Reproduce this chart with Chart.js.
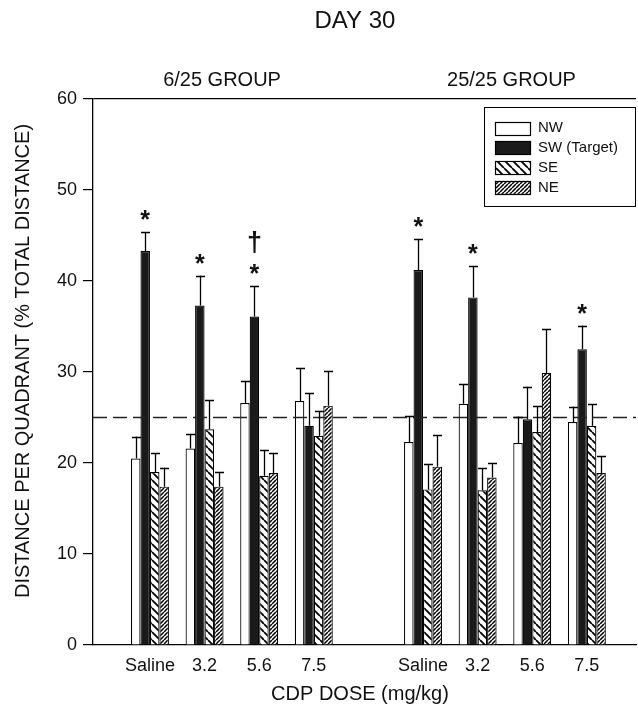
<!DOCTYPE html>
<html lang="en">
<head>
    <meta charset="UTF-8">
    <title>Day 30 - Distance per quadrant</title>
    <script src="https://cdn.jsdelivr.net/npm/chart.js"></script>
    <style>
        body { margin: 0; background: #fff; }
        #chart { display: block; }
    </style>
</head>
<body>
    <canvas id="chart" width="638" height="713"></canvas>

    <script>
        // values (mean and SEM, % of total distance)
        const xPos = [1, 2, 3, 4, 6, 7, 8, 9];
        const doseLabels = ['Saline', '3.2', '5.6', '7.5', 'Saline', '3.2', '5.6', '7.5'];
        const groupLabels = ['6/25 GROUP', '25/25 GROUP'];
        const groupLabelPos = [2.32, 7.62];
        const quadrants = ['NW', 'SW (Target)', 'SE', 'NE'];

        const nwMean = [20.5, 21.6, 26.6, 26.8, 22.3, 26.5, 22.2, 24.5];
        const swMean = [43.3, 37.3, 36.1, 24.1, 41.2, 38.2, 24.8, 32.5];
        const seMean = [19.0, 23.7, 18.6, 23.0, 17.1, 17.0, 23.4, 24.1];
        const neMean = [17.4, 17.4, 18.9, 26.3, 19.6, 18.4, 29.9, 18.9];

        const nwSem = [2.4, 1.6, 2.4, 3.6, 2.9, 2.2, 2.9, 1.7];
        const swSem = [2.1, 3.3, 3.3, 3.6, 3.4, 3.4, 3.6, 2.6];
        const seSem = [2.1, 3.2, 2.8, 2.7, 2.8, 2.4, 2.9, 2.4];
        const neSem = [2.1, 1.6, 2.2, 3.8, 3.5, 1.6, 4.8, 1.9];

        // significance marks above the SW bars (listed bottom to top)
        const swMarks = [['*'], ['*'], ['*', '†'], [], ['*'], ['*'], [], ['*']];

        const chanceLevel = 25;
        const yTicks = [0, 10, 20, 30, 40, 50, 60];

        const FONT = "'Liberation Sans', Arial, Helvetica, sans-serif";
        const INK = '#111';

        // hatch patterns for SE and NE
        function makePattern(size, width, draw) {
            const c = document.createElement('canvas');
            c.width = size; c.height = size;
            const g = c.getContext('2d');
            g.fillStyle = '#fff';
            g.fillRect(0, 0, size, size);
            g.strokeStyle = '#000';
            g.lineWidth = width;
            g.beginPath();
            draw(g, size);
            g.stroke();
            return g.createPattern(c, 'repeat');
        }
        const sePattern = makePattern(8, 1.8, (g, s) => {
            for (const k of [-s, 0, s]) { g.moveTo(k, 0); g.lineTo(k + s, s); }
        });
        const nePattern = makePattern(4, 1.5, (g, s) => {
            for (const k of [-s, 0, s]) { g.moveTo(k, s); g.lineTo(k + s, 0); }
        });

        const fills = ['#fff', '#1a1a1a', sePattern, nePattern];
        const means = [nwMean, swMean, seMean, neMean];
        const sems = [nwSem, swSem, seSem, neSem];

        const datasets = quadrants.map((q, d) => ({
            label: q,
            data: xPos.map((x, i) => ({ x: x, y: means[d][i] })),
            backgroundColor: fills[d],
            borderColor: '#000',
            borderWidth: 1.2
        }));

        const drawExtras = {
            id: 'drawExtras',
            beforeDraw(chart) {
                const ctx = chart.ctx;
                ctx.save();
                ctx.fillStyle = '#fff';
                ctx.fillRect(0, 0, chart.width, chart.height);
                ctx.restore();
            },
            afterDatasetsDraw(chart) {
                const ctx = chart.ctx;
                const xs = chart.scales.x;
                const ys = chart.scales.y;
                const area = chart.chartArea;
                ctx.save();

                // chance level
                const yc = Math.round(ys.getPixelForValue(chanceLevel)) + 0.5;
                ctx.strokeStyle = '#222';
                ctx.lineWidth = 1.3;
                ctx.setLineDash([14, 6]);
                ctx.beginPath();
                ctx.moveTo(area.left, yc);
                ctx.lineTo(area.right, yc);
                ctx.stroke();
                ctx.setLineDash([]);

                // error bars (upper only)
                ctx.strokeStyle = '#000';
                ctx.lineWidth = 1.3;
                chart.data.datasets.forEach((ds, d) => {
                    const meta = chart.getDatasetMeta(d);
                    meta.data.forEach((bar, i) => {
                        const x = Math.round(bar.x) + 0.5;
                        const top = ys.getPixelForValue(means[d][i] + sems[d][i]);
                        ctx.beginPath();
                        ctx.moveTo(x, bar.y);
                        ctx.lineTo(x, top);
                        ctx.moveTo(x - 4.5, Math.round(top) + 0.5);
                        ctx.lineTo(x + 4.5, Math.round(top) + 0.5);
                        ctx.stroke();
                    });
                });

                // significance marks
                const swMeta = chart.getDatasetMeta(1);
                ctx.fillStyle = INK;
                ctx.textAlign = 'center';
                ctx.textBaseline = 'alphabetic';
                swMeta.data.forEach((bar, i) => {
                    let y = ys.getPixelForValue(swMean[i] + swSem[i]) - 19;
                    swMarks[i].forEach(m => {
                        if (m === '*') {
                            ctx.font = 'bold 25px ' + FONT;
                            ctx.fillText(m, bar.x, y + 15);
                        } else {
                            ctx.font = 'bold 27px ' + FONT;
                            ctx.fillText(m, bar.x, y + 12);
                        }
                        y -= 28;
                    });
                });

                // legend
                ctx.strokeStyle = '#000';
                ctx.lineWidth = 1;
                ctx.strokeRect(484.5, 107.5, 151, 99);
                ctx.font = '15px ' + FONT;
                ctx.textAlign = 'left';
                ctx.textBaseline = 'middle';
                quadrants.forEach((q, d) => {
                    const cy = 128 + d * 19.8;
                    ctx.fillStyle = fills[d];
                    ctx.fillRect(495, cy - 6.5, 35, 13);
                    ctx.lineWidth = 1.2;
                    ctx.strokeRect(495.5, Math.round(cy - 6.5) + 0.5, 35, 13);
                    ctx.fillStyle = INK;
                    ctx.fillText(q, 538, cy);
                });

                // titles
                ctx.textAlign = 'center';
                ctx.textBaseline = 'middle';
                ctx.font = '24px ' + FONT;
                ctx.fillText('DAY 30', 355, 21);
                ctx.font = '20px ' + FONT;
                groupLabels.forEach((g, i) => {
                    ctx.fillText(g, xs.getPixelForValue(groupLabelPos[i]), 80);
                });
                ctx.fillText('CDP DOSE (mg/kg)', 360, 694);
                ctx.save();
                ctx.translate(23, 361);
                ctx.rotate(-Math.PI / 2);
                ctx.font = '20px ' + FONT;
                ctx.fillText('DISTANCE PER QUADRANT (% TOTAL DISTANCE)', 0, 0);
                ctx.restore();

                ctx.restore();
            }
        };

        new Chart(document.getElementById('chart'), {
            type: 'bar',
            data: { datasets: datasets },
            options: {
                responsive: false,
                animation: false,
                layout: { padding: { top: 99, right: 2, left: 0, bottom: 0 } },
                datasets: {
                    bar: { categoryPercentage: 0.695, barPercentage: 1.0 }
                },
                plugins: {
                    legend: { display: false },
                    title: { display: false },
                    tooltip: { enabled: false }
                },
                scales: {
                    x: {
                        type: 'linear',
                        min: -0.043,
                        max: 9.9,
                        offset: false,
                        afterBuildTicks: s => { s.ticks = xPos.map(v => ({ value: v })); },
                        afterFit: s => { s.height = 68; },
                        grid: { display: false, drawTicks: false },
                        border: { display: true, color: '#000', width: 1.3 },
                        ticks: {
                            autoSkip: false,
                            maxRotation: 0,
                            padding: 10,
                            color: INK,
                            font: { family: FONT, size: 18 },
                            callback: (v, i) => doseLabels[i]
                        }
                    },
                    y: {
                        min: 0,
                        max: 60,
                        afterBuildTicks: s => { s.ticks = yTicks.map(v => ({ value: v })); },
                        afterFit: s => { s.width = 93; },
                        grid: {
                            drawOnChartArea: true,
                            color: c => (c.tick && c.tick.value === 60) ? '#000' : 'rgba(0,0,0,0)',
                            tickColor: '#000',
                            tickLength: 10,
                            lineWidth: 1.2
                        },
                        border: { display: true, color: '#000', width: 1.3 },
                        ticks: {
                            padding: 6,
                            color: INK,
                            font: { family: FONT, size: 18 }
                        }
                    }
                }
            },
            plugins: [drawExtras]
        });
    </script>
</body>
</html>
